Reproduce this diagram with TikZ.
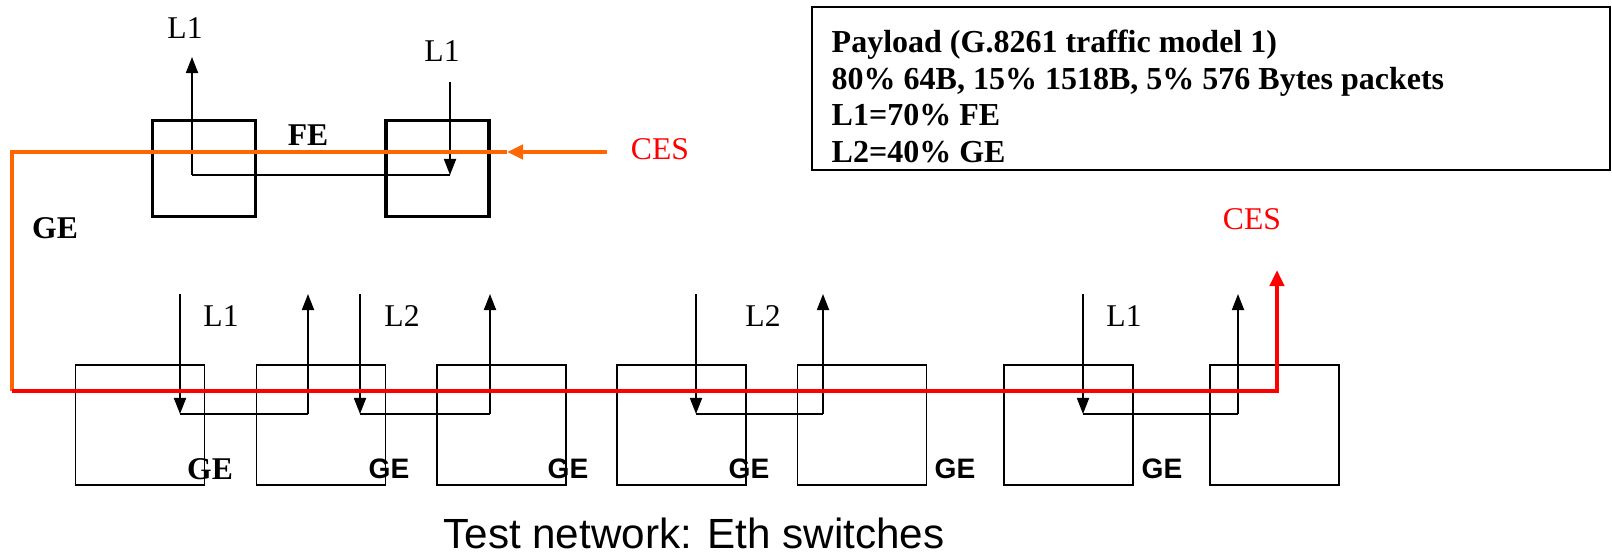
\documentclass[tikz,border=0pt]{standalone}
\usepackage{fontspec}
\setmainfont{Liberation Serif}
\setsansfont{Liberation Sans}
\usetikzlibrary{arrows.meta,positioning}

\definecolor{cesorange}{RGB}{255,102,0}
\definecolor{cesred}{RGB}{255,0,0}

\begin{document}
\begin{tikzpicture}[
        x=0.01cm, y=-0.01cm,
        topswitch/.style={draw, line width=1.1pt, minimum width=1.03cm, minimum height=0.96cm, inner sep=0pt},
        switch/.style={draw, line width=0.5pt, minimum width=1.29cm, minimum height=1.2cm, inner sep=0pt},
        load/.style={line width=0.5pt, -{Triangle[length=1.6mm, width=1.2mm]}},
        link/.style={line width=0.5pt},
        ces/.style={line width=1.2pt, line join=miter},
        lbl/.style={font=\fontsize{9}{10}\selectfont, inner sep=0pt},
        bold/.style={font=\fontsize{9}{10}\selectfont\bfseries, inner sep=0pt},
        gelbl/.style={font=\sffamily\fontsize{8}{9}\selectfont\bfseries, inner sep=0pt},
    ]
    \useasboundingbox (0,0) rectangle (1612,555);

    % Upper pair of switches (FE link)
    \node[topswitch] (ta) at (204,168.5) {};
    \node[topswitch] (tb) at (437.5,168.5) {};
    \node[bold] (fe) at (308,135) {FE};
    \node[bold] (ge0) at (55,228) {GE};
    \node[lbl] (tl1a) at (185,28) {L1};
    \node[lbl] (tl1b) at (442,51) {L1};
    \coordinate (tbin) at (450,82);
    \coordinate (tbdn) at (450,175);
    \coordinate (taup) at (192,175);
    \coordinate (taout) at (192,57);
    \draw[load] (tbin) -- (tbdn);
    \draw[link] (tbdn) -- (taup);
    \draw[load] (taup) -- (taout);

    % Traffic model box
    \node[draw, line width=0.6pt, minimum width=7.98cm, minimum height=1.63cm, inner sep=0pt] (info) at (1211,88.5) {};
    \node[bold, anchor=west, align=left, font=\fontsize{9.1}{10.4}\selectfont\bfseries] (payload) at (831,96.5)
        {Payload (G.8261 traffic model 1)\\80\% 64B, 15\% 1518B, 5\% 576 Bytes packets\\L1=70\% FE\\L2=40\% GE};

    % Lower chain of switches
    \foreach \i/\x in {1/140,2/321,3/501.5,4/681.5,5/862,6/1068.5,7/1274.5} {
        \node[switch] (s\i) at (\x,425) {};
    }

    % Load in and out
    \foreach \i/\a/\b/\l/\lx in {1/180/308/L1/221, 2/360/490/L2/402, 3/696/823/L2/763, 4/1083/1238/L1/1124} {
        \coordinate (in\i) at (\a,294);
        \coordinate (dn\i) at (\a,414);
        \coordinate (up\i) at (\b,414);
        \coordinate (out\i) at (\b,294);
        \draw[load] (in\i) -- (dn\i);
        \draw[link] (dn\i) -- (up\i);
        \draw[load] (up\i) -- (out\i);
        \node[lbl] (ld\i) at (\lx,316) {\l};
    }

    % GE links
    \node[bold] (ge1) at (210,469) {GE};
    \foreach \i/\x in {2/389,3/568,4/749,5/955,6/1162} {
        \node[gelbl] (ge\i) at (\x,469) {GE};
    }

    % CES path
    \node[lbl, text=cesred] (cesa) at (660,149) {CES};
    \node[lbl, text=cesred] (cesb) at (1252,219) {CES};
    \coordinate (cesin) at (607,152);
    \coordinate (cesmid) at (507,152);
    \coordinate (gecorner) at (12,152);
    \coordinate (gebottom) at (12,391);
    \coordinate (cesup) at (1277,391);
    \coordinate (cesout) at (1277,270);
    \draw[ces, cesorange, -{Triangle[length=1.6mm, width=1.4mm]}] (cesin) -- (cesmid);
    \draw[ces, cesorange] (cesmid) -- (gecorner) -- (gebottom);
    \draw[ces, cesred, -{Triangle[length=1.6mm, width=1.4mm]}] (gebottom) -- (cesup) -- (cesout);

    % Caption
    \node[font=\sffamily\fontsize{12}{14}\selectfont, inner sep=0pt] (caption) at (694,533) {Test network: Eth switches};
\end{tikzpicture}
\end{document}
